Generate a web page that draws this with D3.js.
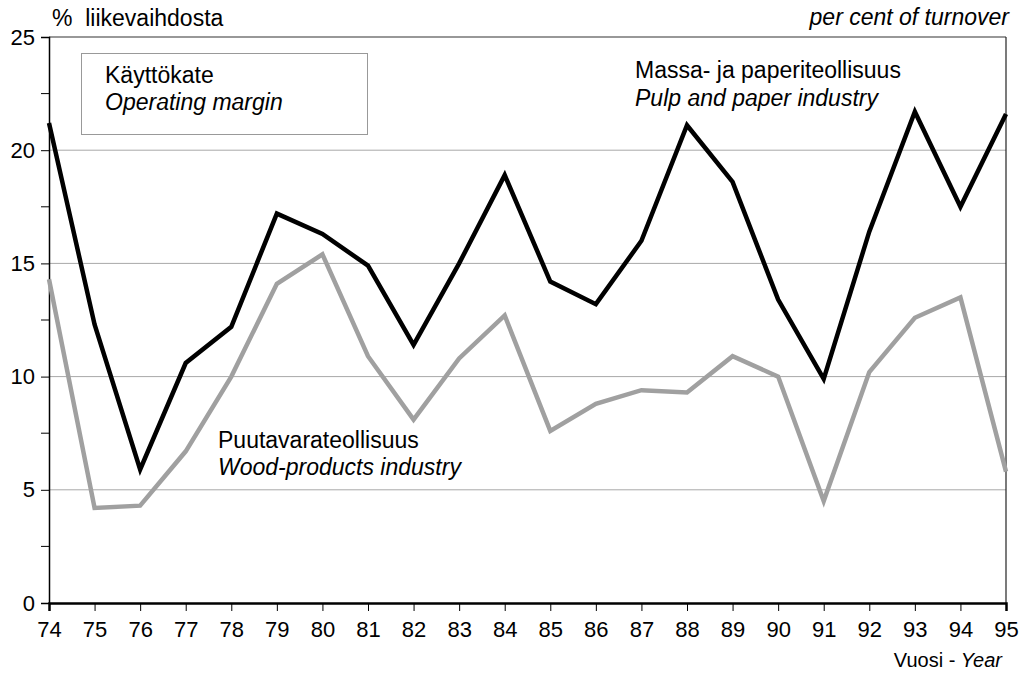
<!DOCTYPE html>
<html>
<head>
<meta charset="utf-8">
<script src="https://cdn.jsdelivr.net/npm/d3@7"></script>
<style>
  html, body { margin: 0; padding: 0; background: #fff; }
  svg { display: block; font-family: "Liberation Sans", Arial, sans-serif; }
</style>
</head>
<body>
<svg id="chart" width="1025" height="675"></svg>
<script>
// Operating margin, % of turnover, 1974–1995
const years = [74, 75, 76, 77, 78, 79, 80, 81, 82, 83, 84, 85, 86, 87, 88, 89, 90, 91, 92, 93, 94, 95];
const pulpPaper = [21.2, 12.3, 5.9, 10.6, 12.2, 17.2, 16.3, 14.9, 11.4, 15.0, 18.9, 14.2, 13.2, 16.0, 21.1, 18.6, 13.4, 9.9, 16.4, 21.7, 17.5, 21.6];
const woodProducts = [14.3, 4.2, 4.3, 6.7, 10.0, 14.1, 15.4, 10.9, 8.1, 10.8, 12.7, 7.6, 8.8, 9.4, 9.3, 10.9, 10.0, 4.5, 10.2, 12.6, 13.5, 5.8];
const yTicks = [0, 5, 10, 15, 20, 25];
const yMinorTicks = [2.5, 7.5, 12.5, 17.5, 22.5];

const svg = d3.select("#chart");
const plotLeft = 49, plotRight = 1006, plotTop = 37, plotBottom = 603;
const labelSize = 23, tickSize = 22;

const x = d3.scaleLinear().domain([74, 95]).range([plotLeft, plotRight]);
const y = d3.scaleLinear().domain([0, 25]).range([plotBottom, plotTop]);

// horizontal gridlines
svg.append("g").selectAll("line")
  .data(yTicks.filter(d => d > 0 && d < 25))
  .join("line")
  .attr("x1", plotLeft).attr("x2", plotRight)
  .attr("y1", d => y(d)).attr("y2", d => y(d))
  .attr("stroke", "#a8a8a8").attr("stroke-width", 1);

// frame: top and right
svg.append("line").attr("x1", plotLeft).attr("x2", plotRight).attr("y1", y(25)).attr("y2", y(25))
  .attr("stroke", "#333").attr("stroke-width", 1.2);
svg.append("line").attr("x1", plotRight).attr("x2", plotRight).attr("y1", y(25)).attr("y2", y(0))
  .attr("stroke", "#222").attr("stroke-width", 1.2);

// y axis
const yAxis = svg.append("g").attr("transform", `translate(${plotLeft},0)`)
  .call(d3.axisLeft(y).tickValues(yTicks).tickSize(8).tickPadding(6).tickFormat(d3.format("d")));
yAxis.select(".domain").attr("stroke", "#000").attr("stroke-width", 1.5);
yAxis.selectAll(".tick line").attr("stroke", "#000");
yAxis.selectAll(".tick text").attr("font-size", tickSize).attr("fill", "#000")
  .attr("font-family", "'Liberation Sans', Arial, sans-serif");
svg.append("g").selectAll("line").data(yMinorTicks).join("line")
  .attr("x1", plotLeft - 8).attr("x2", plotLeft)
  .attr("y1", d => y(d)).attr("y2", d => y(d))
  .attr("stroke", "#000").attr("stroke-width", 1);

// x axis
const xAxis = svg.append("g").attr("transform", `translate(0,${plotBottom})`)
  .call(d3.axisBottom(x).tickValues(years).tickSize(8).tickPadding(10).tickFormat(d3.format("d")));
xAxis.select(".domain").attr("stroke", "#000").attr("stroke-width", 2.5);
xAxis.selectAll(".tick line").attr("stroke", "#000");
xAxis.selectAll(".tick text").attr("font-size", tickSize).attr("fill", "#000")
  .attr("font-family", "'Liberation Sans', Arial, sans-serif");

// series lines
const line = d3.line().x((d, i) => x(years[i])).y(d => y(d));
svg.append("path").datum(woodProducts).attr("d", line)
  .attr("fill", "none").attr("stroke", "#a0a0a0").attr("stroke-width", 4.5)
  .attr("stroke-linejoin", "miter");
svg.append("path").datum(pulpPaper).attr("d", line)
  .attr("fill", "none").attr("stroke", "#000").attr("stroke-width", 4.5)
  .attr("stroke-linejoin", "miter");

// titles
svg.append("text").attr("x", 52).attr("y", 26).attr("font-size", labelSize)
  .attr("xml:space", "preserve").text("%  liikevaihdosta");
svg.append("text").attr("x", 1009).attr("y", 25).attr("font-size", labelSize)
  .attr("font-style", "italic").attr("text-anchor", "end").text("per cent of turnover");

// legend box
svg.append("rect").attr("x", 81.5).attr("y", 53.5).attr("width", 286).attr("height", 81)
  .attr("fill", "#fff").attr("stroke", "#999").attr("stroke-width", 1);
svg.append("text").attr("x", 105).attr("y", 83).attr("font-size", labelSize).text("Käyttökate");
svg.append("text").attr("x", 105).attr("y", 110).attr("font-size", labelSize)
  .attr("font-style", "italic").text("Operating margin");

// series labels
svg.append("text").attr("x", 635).attr("y", 78).attr("font-size", labelSize).text("Massa- ja paperiteollisuus");
svg.append("text").attr("x", 635).attr("y", 106).attr("font-size", labelSize)
  .attr("font-style", "italic").text("Pulp and paper industry");
svg.append("text").attr("x", 218).attr("y", 448).attr("font-size", labelSize).text("Puutavarateollisuus");
svg.append("text").attr("x", 218).attr("y", 475).attr("font-size", labelSize)
  .attr("font-style", "italic").text("Wood-products industry");

// x axis title
const xt = svg.append("text").attr("x", 1002).attr("y", 667).attr("font-size", 20)
  .attr("text-anchor", "end");
xt.append("tspan").text("Vuosi - ");
xt.append("tspan").attr("font-style", "italic").text("Year");
</script>
</body>
</html>
